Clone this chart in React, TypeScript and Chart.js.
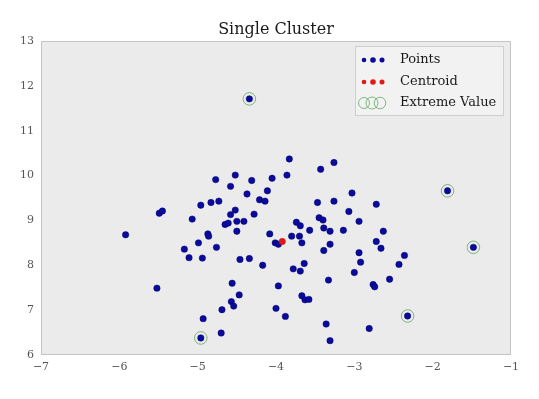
import React, { useEffect, useRef } from "react";
import { Chart, registerables } from "chart.js";

Chart.register(...registerables);

const TITLE = "Single Cluster";
const X_TICKS = [-7, -6, -5, -4, -3, -2, -1];
const Y_TICKS = [6, 7, 8, 9, 10, 11, 12, 13];
const LEGEND_LABELS = ["Points", "Centroid", "Extreme Value"];

const pointsX = [
  -4.77, -4.52, -4.58, -4.96, -4.83, -4.73, -4.52, -4.58, -5.49, -5.45, -5.07, -4.65, -4.61, -4.5, -4.5, -5.92,
  -4.87, -4.86, -4.99, -4.76, -5.17, -5.11, -4.94, -3.83, -3.26, -3.43, -3.86, -4.31, -4.05, -4.11, -4.37, -3.03,
  -4.21, -4.14, -3.47, -3.26, -3.07, -4.28, -3.45, -3.4, -4.41, -2.94, -3.74, -3.69, -3.39, -3.57, -3.31, -3.14,
  -4.08, -3.8, -3.7, -4.01, -3.97, -3.67, -3.31, -3.39, -2.94, -4.34, -4.46, -4.17, -3.78, -3.64, -3.69, -2.92,
  -3.0, -4.56, -4.47, -4.57, -4.54, -4.69, -4.93, -4.7, -5.52, -3.97, -3.33, -3.67, -3.63, -3.58, -4.0, -3.88,
  -3.36, -2.81, -3.31, -2.72, -2.63, -2.72, -2.66, -2.36, -2.43, -2.55, -2.76, -2.74,
  -4.34, -1.81, -1.48, -2.32, -4.96,
];
const pointsY = [
  9.91, 10.01, 9.76, 9.34, 9.4, 9.43, 9.23, 9.13, 9.16, 9.21, 9.03, 8.91, 8.94, 8.98, 8.76, 8.68,
  8.7, 8.65, 8.5, 8.4, 8.36, 8.17, 8.16, 10.37, 10.29, 10.14, 10.01, 9.89, 9.94, 9.66, 9.59, 9.61,
  9.46, 9.43, 9.4, 9.43, 9.2, 9.14, 9.06, 9.01, 8.98, 8.98, 8.96, 8.88, 8.83, 8.78, 8.76, 8.78,
  8.7, 8.65, 8.65, 8.5, 8.47, 8.5, 8.47, 8.33, 8.28, 8.15, 8.13, 8.0, 7.92, 8.04, 7.87, 8.07,
  7.84, 7.6, 7.34, 7.19, 7.09, 7.01, 6.81, 6.49, 7.49, 7.54, 7.67, 7.32, 7.23, 7.24, 7.04, 6.86,
  6.69, 6.59, 6.32, 9.36, 8.76, 8.53, 8.38, 8.22, 8.02, 7.69, 7.57, 7.52,
  11.71, 9.66, 8.4, 6.87, 6.38,
];
const centroidX = [-3.92];
const centroidY = [8.53];
const extremeX = [-4.34, -1.81, -1.48, -2.32, -4.96];
const extremeY = [11.71, 9.66, 8.4, 6.87, 6.38];

const FONT = "'DejaVu Serif', 'Liberation Serif', serif";
const BLUE = "#0a0a9c";
const RED = "#e01818";
const GREEN = "rgba(80,160,80,0.7)";

const zip = (xs: number[], ys: number[]) => xs.map((x, i) => ({ x, y: ys[i] }));

const bgPlugin = {
  id: "plotBg",
  beforeDraw(chart: any) {
    const { ctx, chartArea: a } = chart;
    ctx.save();
    ctx.fillStyle = "#ebebeb";
    ctx.fillRect(a.left, a.top, a.right - a.left, a.bottom - a.top);
    ctx.restore();
  },
  afterDraw(chart: any) {
    const { ctx, chartArea: a } = chart;
    ctx.save();
    ctx.strokeStyle = "#c4c4c4";
    ctx.lineWidth = 1;
    ctx.strokeRect(Math.round(a.left) + 0.5, Math.round(a.top) + 0.5, a.right - a.left - 1, a.bottom - a.top - 1);
    ctx.restore();
  },
};

const legendPlugin = {
  id: "customLegend",
  afterDraw(chart: any) {
    const { ctx, chartArea: a } = chart;
    const right = a.right - 7;
    const top = a.top + 5;
    const w = 149;
    const h = 70;
    const left = right - w;
    ctx.save();
    ctx.fillStyle = "rgba(243,243,243,0.9)";
    ctx.strokeStyle = "#cfcfcf";
    ctx.lineWidth = 1;
    ctx.fillRect(left, top, w, h);
    ctx.strokeRect(left + 0.5, top + 0.5, w - 1, h - 1);
    const rowY = [top + 14, top + 36, top + 57];
    const mx = [left + 9, left + 18, left + 27];
    const sizes = [2.3, 2.8, 2.5];
    ctx.fillStyle = BLUE;
    mx.forEach((x, i) => {
      ctx.beginPath();
      ctx.arc(x, rowY[0], sizes[i], 0, Math.PI * 2);
      ctx.fill();
    });
    ctx.fillStyle = RED;
    mx.forEach((x, i) => {
      ctx.beginPath();
      ctx.arc(x, rowY[1], sizes[i], 0, Math.PI * 2);
      ctx.fill();
    });
    ctx.strokeStyle = GREEN;
    ctx.lineWidth = 1;
    const gx = [left + 9, left + 17, left + 25];
    const gr = [5.5, 6, 5.8];
    gx.forEach((x, i) => {
      ctx.beginPath();
      ctx.arc(x, rowY[2], gr[i], 0, Math.PI * 2);
      ctx.stroke();
    });
    ctx.fillStyle = "#1a1a1a";
    ctx.font = `13px ${FONT}`;
    ctx.textBaseline = "middle";
    ctx.textAlign = "left";
    LEGEND_LABELS.forEach((t, i) => ctx.fillText(t, left + 45, rowY[i]));
    ctx.restore();
  },
};

export default function App() {
  const ref = useRef<HTMLCanvasElement>(null);
  useEffect(() => {
    if (!ref.current) return;
    const fmt = (v: any) => String(v).replace("-", "\u2212");
    const chart = new Chart(ref.current, {
      type: "scatter",
      data: {
        datasets: [
          {
            label: LEGEND_LABELS[2],
            data: zip(extremeX, extremeY),
            backgroundColor: "rgba(0,0,0,0)",
            borderColor: GREEN,
            borderWidth: 1,
            pointRadius: 6.3,
            pointHoverRadius: 6.3,
          },
          {
            label: LEGEND_LABELS[1],
            data: zip(centroidX, centroidY),
            backgroundColor: RED,
            borderColor: "#c01010",
            borderWidth: 0.5,
            pointRadius: 3.2,
          },
          {
            label: LEGEND_LABELS[0],
            data: zip(pointsX, pointsY),
            backgroundColor: BLUE,
            borderColor: "#000070",
            borderWidth: 0.5,
            pointRadius: 3.2,
          },
        ],
      },
      options: {
        animation: false,
        responsive: false,
        devicePixelRatio: 1,
        layout: { padding: { left: 0, right: 28, top: 0, bottom: 0 } },
        plugins: {
          legend: { display: false },
          tooltip: { enabled: false },
          title: {
            display: true,
            text: TITLE,
            fullSize: false,
            color: "#1a1a1a",
            font: { family: FONT, size: 16, weight: "normal", lineHeight: 1.25 },
            padding: { top: 20, bottom: 1 },
          },
        },
        scales: {
          x: {
            type: "linear",
            min: X_TICKS[0],
            max: X_TICKS[X_TICKS.length - 1],
            afterFit: (s: any) => {
              s.height = 44;
            },
            afterBuildTicks: (s: any) => {
              s.ticks = X_TICKS.map((v) => ({ value: v }));
            },
            grid: { display: false, drawTicks: false },
            border: { display: false },
            ticks: {
              padding: 6,
              color: "#555",
              font: { family: FONT, size: 11 },
              callback: fmt,
              maxRotation: 0,
            },
          },
          y: {
            type: "linear",
            min: Y_TICKS[0],
            max: Y_TICKS[Y_TICKS.length - 1],
            afterFit: (s: any) => {
              s.width = 41;
            },
            afterBuildTicks: (s: any) => {
              s.ticks = Y_TICKS.map((v) => ({ value: v }));
            },
            grid: { display: false, drawTicks: false },
            border: { display: false },
            ticks: {
              padding: 7,
              color: "#555",
              font: { family: FONT, size: 11 },
              callback: fmt,
            },
          },
        },
      },
      plugins: [bgPlugin, legendPlugin],
    });
    return () => chart.destroy();
  }, []);
  return (
    <div style={{ position: "absolute", left: 0, top: 0, width: 539, height: 399, background: "#fff" }}>
      <canvas ref={ref} width={539} height={399} style={{ display: "block" }} />
    </div>
  );
}
